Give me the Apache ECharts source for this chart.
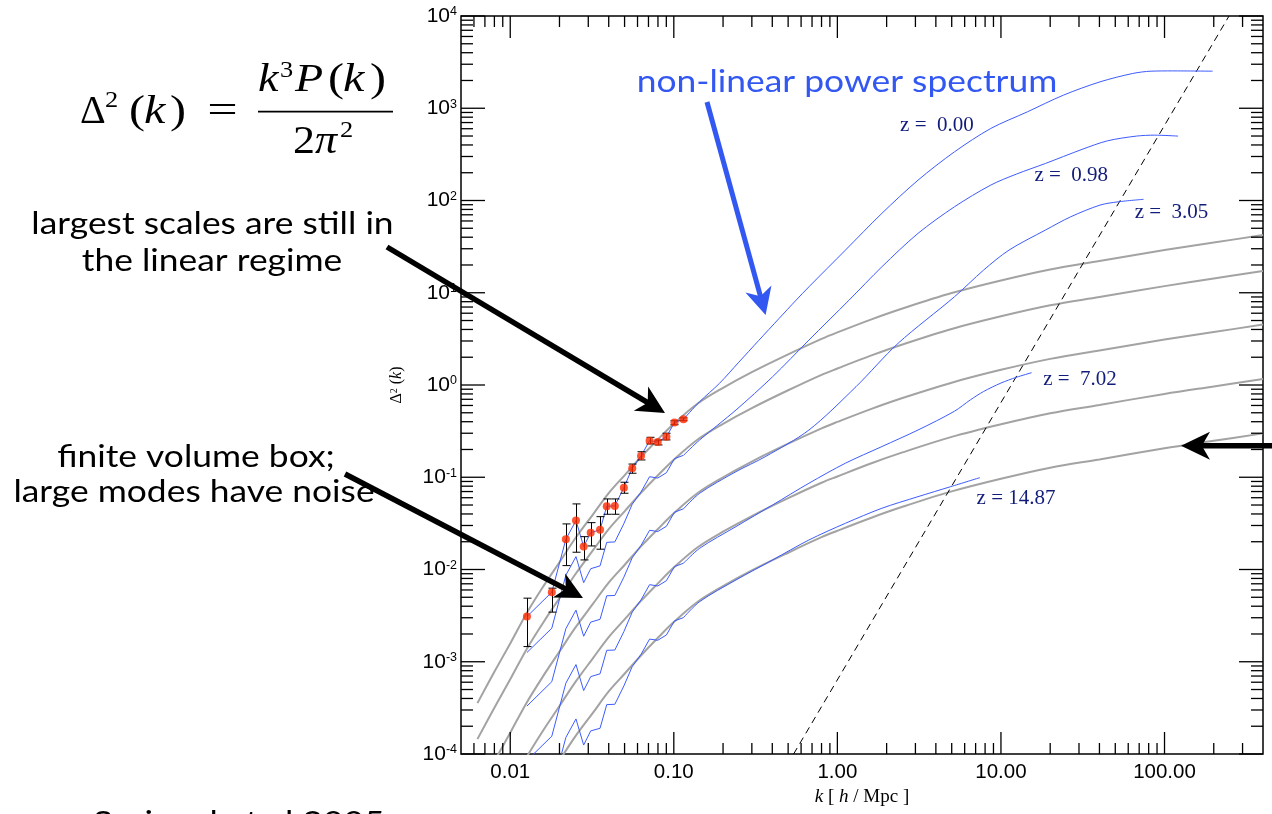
<!DOCTYPE html>
<html>
<head>
<meta charset="utf-8">
<script src="https://cdn.jsdelivr.net/npm/echarts@6/dist/echarts.min.js"></script>
<style>
  html, body { margin: 0; padding: 0; background: #fff; }
  #chart { width: 1272px; height: 814px; }
</style>
</head>
<body>
<div id="chart"></div>
<script>
// ---------- axis ticks ----------
const xMajorTicks = [0.01, 0.1, 1, 10, 100];
const yMajorTicks = [1e-4, 1e-3, 1e-2, 1e-1, 1, 10, 100, 1000, 1e4];
const minorMultipliers = [2, 3, 4, 5, 6, 7, 8, 9];
const xDecades = [0.001, 0.01, 0.1, 1, 10, 100];
const yDecades = [1e-4, 1e-3, 1e-2, 1e-1, 1, 10, 100, 1000];

// ---------- linear theory, k grid shared by all redshifts ----------
const kLin = [0.0063, 0.008, 0.01, 0.0126, 0.016, 0.02, 0.025, 0.032, 0.04, 0.05,
  0.063, 0.08, 0.1, 0.14, 0.2, 0.3, 0.5, 0.8, 1, 1.6, 2.5, 5, 10, 20, 40, 100, 200, 400];
const linZ000 = [3.56e-4, 7.78e-4, 1.58e-3, 3.36e-3, 6.64e-3, 0.0120, 0.0218, 0.0394, 0.0673, 0.105,
  0.166, 0.257, 0.380, 0.631, 0.933, 1.38, 2.15, 3.16, 3.72, 5.12, 6.75, 9.93, 13.6, 17.9, 22.1, 29.0, 35.0, 42.2];
const linZ098 = [1.45e-4, 3.17e-4, 6.46e-4, 1.37e-3, 2.70e-3, 4.90e-3, 8.89e-3, 0.0161, 0.0274, 0.0427,
  0.0676, 0.105, 0.155, 0.257, 0.380, 0.562, 0.877, 1.29, 1.51, 2.08, 2.75, 4.05, 5.55, 7.31, 8.99, 11.8, 14.3, 17.2];
const linZ305 = [3.81e-5, 8.34e-5, 1.70e-4, 3.60e-4, 7.11e-4, 1.29e-3, 2.34e-3, 4.23e-3, 7.21e-3, 0.0112,
  0.0178, 0.0275, 0.0407, 0.0676, 0.100, 0.148, 0.231, 0.339, 0.398, 0.548, 0.723, 1.06, 1.46, 1.92, 2.37, 3.11, 3.75, 4.52];
const linZ702 = [9.8e-6, 2.14e-5, 4.37e-5, 9.25e-5, 1.83e-4, 3.31e-4, 6.01e-4, 1.09e-3, 1.85e-3, 2.88e-3,
  4.57e-3, 7.08e-3, 0.0105, 0.0174, 0.0257, 0.0380, 0.0593, 0.0871, 0.102, 0.141, 0.186, 0.274, 0.375, 0.494, 0.608, 0.800, 0.964, 1.16];
const linZ1487 = [2.52e-6, 5.51e-6, 1.12e-5, 2.38e-5, 4.70e-5, 8.51e-5, 1.55e-4, 2.79e-4, 4.76e-4, 7.41e-4,
  1.17e-3, 1.82e-3, 2.69e-3, 4.47e-3, 6.61e-3, 9.77e-3, 0.0152, 0.0224, 0.0263, 0.0362, 0.0478, 0.0703, 0.0964, 0.127, 0.156, 0.206, 0.248, 0.299];

// ---------- simulation: large-scale bins ----------
const kBins = [0.01265, 0.01795, 0.02188, 0.02523, 0.02811, 0.03104, 0.0354, 0.0389, 0.0436, 0.0495,
  0.0557, 0.0630, 0.0711, 0.0798, 0.0901, 0.1009, 0.1146];
const binsZ000 = [0.00309, 0.00568, 0.0213, 0.0339, 0.0177, 0.0251, 0.0269, 0.0485, 0.0489, 0.0771,
  0.1253, 0.170, 0.249, 0.241, 0.275, 0.391, 0.425];
const errLowZ000 = [0.00146, 0.00345, 0.01102, 0.01539, 0.0127, 0.0180, 0.0166, 0.0397, 0.0397, 0.0671,
  0.1105, 0.154, 0.230, 0.224, 0.254, 0.371, 0.410];
const errHighZ000 = [0.00489, 0.00627, 0.0312, 0.0514, 0.0227, 0.0322, 0.0374, 0.0582, 0.0582, 0.0883,
  0.139, 0.189, 0.271, 0.253, 0.300, 0.410, 0.440];
const binsZ098 = [1.26e-3, 2.31e-3, 8.67e-3, 0.0138, 7.20e-3, 0.0102, 0.01095, 0.0197, 0.0199, 0.0314,
  0.0510, 0.0692, 0.1013, 0.0981, 0.1119, 0.159, 0.173];
const binsZ305 = [3.31e-4, 6.08e-4, 2.28e-3, 3.63e-3, 1.89e-3, 2.69e-3, 2.88e-3, 5.19e-3, 5.23e-3, 8.25e-3,
  0.0134, 0.0182, 0.0266, 0.0258, 0.0294, 0.0418, 0.0455];
const binsZ702 = [8.50e-5, 1.56e-4, 5.86e-4, 9.32e-4, 4.87e-4, 6.90e-4, 7.40e-4, 1.33e-3, 1.34e-3, 2.12e-3,
  3.45e-3, 4.68e-3, 6.85e-3, 6.63e-3, 7.56e-3, 0.01075, 0.01169];
const binsZ1487 = [2.19e-5, 4.02e-5, 1.51e-4, 2.40e-4, 1.25e-4, 1.78e-4, 1.90e-4, 3.43e-4, 3.46e-4, 5.46e-4,
  8.87e-4, 1.20e-3, 1.76e-3, 1.71e-3, 1.95e-3, 2.77e-3, 3.01e-3];

// ---------- simulation: smaller scales (non-linear part) ----------
const tailKZ000 = [0.1146, 0.144, 0.19, 0.25, 0.33, 0.44, 0.56, 0.67, 1.12, 1.87, 3.11, 5.20, 8.67, 14.5, 24.1, 40.3, 63.9, 82.6, 112, 197];
const tailDZ000 = [0.425, 0.66, 1.04, 1.77, 3.03, 5.26, 8.33, 11.6, 29.0, 72.5, 166, 337, 604, 914, 1387, 1932, 2382, 2523, 2540, 2523];
const tailKZ098 = [0.1146, 0.144, 0.24, 0.402, 0.67, 1.18, 1.87, 3.11, 5.20, 8.67, 12.4, 18.7, 31.3, 44.7, 67.3, 86.9, 121];
const tailDZ098 = [0.173, 0.254, 0.536, 1.23, 3.07, 8.33, 19.1, 44.0, 85.5, 147, 193, 252, 358, 443, 499, 511, 499];
const tailKZ305 = [0.1146, 0.144, 0.24, 0.362, 0.67, 1.30, 2.35, 5.20, 7.83, 11.2, 18.7, 26.7, 40.3, 52.1, 74.5];
const tailDZ305 = [0.0455, 0.0671, 0.115, 0.167, 0.325, 0.959, 2.83, 9.05, 17.6, 29.0, 47.8, 66.6, 89.1, 96.8, 103];
const tailKZ702 = [0.1146, 0.144, 0.24, 0.402, 0.67, 1.12, 1.87, 3.11, 5.20, 6.5, 7.83, 10.0, 12.4, 15.4];
const tailDZ702 = [0.01169, 0.0170, 0.0292, 0.0501, 0.0861, 0.142, 0.215, 0.325, 0.52, 0.69, 0.85, 1.05, 1.21, 1.36];
const tailKZ1487 = [0.1146, 0.144, 0.24, 0.402, 0.67, 1.12, 1.87, 3.11, 4.93, 7.43];
const tailDZ1487 = [0.00301, 0.00449, 0.0077, 0.0127, 0.0209, 0.0317, 0.0461, 0.0616, 0.0791, 0.0990];

// ---------- resolution limit (dashed) ----------
const limitK = [0.54, 248];
const limitD = [1e-4, 1e4];

// ---------- redshift labels ----------
const zLabels = ['z =  0.00', 'z =  0.98', 'z =  3.05', 'z =  7.02', 'z = 14.87'];
const zLabelK = [2.40, 15.9, 65.2, 18.0, 7.05];
const zLabelD = [656, 188, 74.9, 1.15, 0.0586];

// ---------- helpers ----------
const zip = (a, b) => a.map((v, i) => [v, b[i]]);
const isPow10 = v => Math.abs(Math.log10(v) - Math.round(Math.log10(v))) < 1e-6;

const BLUE = '#3d5bff';
const GRAY = '#a3a3a3';
const NAVY = '#121c7a';
const Y_MIN = 1e-4, Y_MAX = 1e4, X_MIN = 0.005, X_MAX = 400;

function minorTicks(decades, lo, hi) {
  const out = [];
  decades.forEach(d => minorMultipliers.forEach(m => {
    const v = m * d;
    if (v > lo * 1.0001 && v < hi * 0.9999) out.push(v);
  }));
  return out;
}

const xTickData = xMajorTicks.map(v => [v, 1, 22]).concat(minorTicks(xDecades, X_MIN, X_MAX).map(v => [v, 1, 11]));
const yTickData = yMajorTicks.map(v => [1, v, 24]).concat(minorTicks(yDecades, Y_MIN, Y_MAX).map(v => [1, v, 12]));

const tickStyle = { stroke: '#000', lineWidth: 1.3 };

function lineSeries(data, color, width, smooth, z) {
  return {
    type: 'line', data, showSymbol: false, symbol: 'none', smooth,
    lineStyle: { color, width }, itemStyle: { color }, z, silent: true, clip: true
  };
}

const series = [];
[linZ000, linZ098, linZ305, linZ702, linZ1487].forEach(arr => {
  series.push(lineSeries(zip(kLin, arr), GRAY, 2, 0.35, 2));
});
series.push({
  type: 'line', data: zip(limitK, limitD), showSymbol: false, symbol: 'none',
  lineStyle: { color: '#000', width: 1, type: [7, 5] }, z: 3, silent: true, clip: true
});
[binsZ000, binsZ098, binsZ305, binsZ702, binsZ1487].forEach(arr => {
  series.push(lineSeries(zip(kBins, arr), BLUE, 1, false, 4));
});
[[tailKZ000, tailDZ000], [tailKZ098, tailDZ098], [tailKZ305, tailDZ305], [tailKZ702, tailDZ702], [tailKZ1487, tailDZ1487]]
  .forEach(([k, d]) => series.push(lineSeries(zip(k, d), BLUE, 1, 0.3, 4)));

// error bars on the z = 0 measurements
series.push({
  type: 'custom', coordinateSystem: 'cartesian2d', z: 5, silent: true,
  encode: { x: 0, y: [1, 2] },
  data: kBins.map((k, i) => [k, errLowZ000[i], errHighZ000[i]]),
  renderItem(params, api) {
    const k = api.value(0);
    const pl = api.coord([k, api.value(1)]);
    const ph = api.coord([k, api.value(2)]);
    const w = 4;
    const x = Math.round(pl[0]) + 0.5;
    const st = { stroke: '#000', lineWidth: 1 };
    return {
      type: 'group', children: [
        { type: 'line', shape: { x1: x, y1: pl[1], x2: x, y2: ph[1] }, style: st },
        { type: 'line', shape: { x1: x - w, y1: pl[1], x2: x + w, y2: pl[1] }, style: st },
        { type: 'line', shape: { x1: x - w, y1: ph[1], x2: x + w, y2: ph[1] }, style: st }
      ]
    };
  }
});
series.push({
  type: 'scatter', data: zip(kBins, binsZ000), symbol: 'circle', symbolSize: 8,
  itemStyle: { color: '#ff2a00' }, z: 6, silent: true
});
// redshift labels
series.push({
  type: 'scatter', symbolSize: 1, itemStyle: { color: 'rgba(255,255,255,0)' }, z: 7, silent: true,
  data: zLabels.map((name, i) => ({ name, value: [zLabelK[i], zLabelD[i]] })),
  label: {
    show: true, position: 'right', distance: 0, formatter: p => p.name, opacity: 1,
    fontFamily: 'Liberation Serif', fontSize: 21, color: NAVY
  },
  labelLayout: { hideOverlap: false }
});
// axis ticks on all four sides (pointing inward)
series.push({
  type: 'custom', coordinateSystem: 'cartesian2d', z: 8, silent: true, clip: false,
  encode: { x: 0, y: 1 }, data: xTickData,
  renderItem(params, api) {
    const v = api.value(0), len = api.value(2);
    const b = api.coord([v, Y_MIN]), t = api.coord([v, Y_MAX]);
    return {
      type: 'group', children: [
        { type: 'line', shape: { x1: b[0], y1: b[1], x2: b[0], y2: b[1] - len }, style: tickStyle },
        { type: 'line', shape: { x1: t[0], y1: t[1], x2: t[0], y2: t[1] + len }, style: tickStyle }
      ]
    };
  }
});
series.push({
  type: 'custom', coordinateSystem: 'cartesian2d', z: 8, silent: true, clip: false,
  encode: { x: 0, y: 1 }, data: yTickData,
  renderItem(params, api) {
    const v = api.value(1), len = api.value(2);
    const l = api.coord([X_MIN, v]), r = api.coord([X_MAX, v]);
    return {
      type: 'group', children: [
        { type: 'line', shape: { x1: l[0], y1: l[1], x2: l[0] + len, y2: l[1] }, style: tickStyle },
        { type: 'line', shape: { x1: r[0], y1: r[1], x2: r[0] - len, y2: r[1] }, style: tickStyle }
      ]
    };
  }
});

// ---------- annotations ----------
function arrow(tail, tip, lw, headLen, headHalf, color) {
  const dx = tip[0] - tail[0], dy = tip[1] - tail[1];
  const len = Math.hypot(dx, dy);
  const ux = dx / len, uy = dy / len, nx = -uy, ny = ux;
  const back = [tip[0] - ux * headLen, tip[1] - uy * headLen];
  const notch = [tip[0] - ux * headLen * 0.72, tip[1] - uy * headLen * 0.72];
  return [
    { type: 'line', z: 100, shape: { x1: tail[0], y1: tail[1], x2: notch[0] + ux * 3, y2: notch[1] + uy * 3 },
      style: { stroke: color, lineWidth: lw } },
    { type: 'polygon', z: 100, shape: { points: [tip, [back[0] + nx * headHalf, back[1] + ny * headHalf], notch,
      [back[0] - nx * headHalf, back[1] - ny * headHalf]] }, style: { fill: color } }
  ];
}

const SANS = 'Lato';
const STRETCH = 1.18;
function label(text, x, y, opts = {}) {
  return {
    type: 'text', x, y, z: 100, scaleX: opts.scaleX || STRETCH,
    style: {
      text, fill: opts.color || '#000',
      font: (opts.style || '') + ' ' + (opts.size || 30) + 'px ' + (opts.family || SANS),
      textAlign: opts.align || 'center', align: opts.align || 'center',
      textVerticalAlign: 'middle', verticalAlign: 'middle'
    }
  };
}
const SERIF = '"Liberation Serif"';
const formula = [
  label('Δ', 80, 112, { align: 'left', size: 40, family: SERIF, scaleX: 1 }),
  label('2', 105, 101, { align: 'left', size: 24, family: SERIF, scaleX: 1.1 }),
  label('(', 129, 112, { align: 'left', size: 40, family: SERIF, scaleX: 1.2 }),
  label('k', 144, 112, { align: 'left', size: 40, family: SERIF, style: 'italic', scaleX: 1.2 }),
  label(')', 170, 112, { align: 'left', size: 40, family: SERIF, scaleX: 1.2 }),
  label('=', 222.5, 112, { align: 'center', size: 40, family: SERIF, scaleX: 1.35 }),
  label('k', 258, 80, { align: 'left', size: 40, family: SERIF, style: 'italic', scaleX: 1.15 }),
  label('3', 280, 70.5, { align: 'left', size: 24, family: SERIF, scaleX: 1.1 }),
  label('P', 295, 80, { align: 'left', size: 40, family: SERIF, style: 'italic', scaleX: 1.15 }),
  label('(', 328, 80, { align: 'left', size: 40, family: SERIF, scaleX: 1.2 }),
  label('k', 343, 80, { align: 'left', size: 40, family: SERIF, style: 'italic', scaleX: 1.2 }),
  label(')', 370, 80, { align: 'left', size: 40, family: SERIF, scaleX: 1.2 }),
  { type: 'line', z: 100, shape: { x1: 258, y1: 111.7, x2: 393, y2: 111.7 }, style: { stroke: '#000', lineWidth: 1.8 } },
  label('2', 293, 142, { align: 'left', size: 40, family: SERIF, scaleX: 1.1 }),
  label('π', 315, 142, { align: 'left', size: 40, family: SERIF, style: 'italic', scaleX: 1.1 }),
  label('2', 340, 131, { align: 'left', size: 24, family: SERIF, scaleX: 1.1 })
];

const graphic = formula.concat([
  label('largest scales are still in', 212.5, 224),
  label('the linear regime', 212, 261),
  label('finite volume box;', 196, 457),
  label('large modes have noise', 194, 492),
  label('non-linear power spectrum', 847, 82, { color: '#3358f2' }),
  label('Springel et al 2005', 93, 823, { align: 'left' }),
  ...arrow([387, 247], [665, 413], 5.5, 28, 14, '#000'),
  ...arrow([345, 474], [583, 598], 5.5, 27, 13.5, '#000'),
  ...arrow([707, 102], [765.6, 315], 5, 27, 13.5, '#3358f2'),
  ...arrow([1276, 445.7], [1181, 445.7], 5.5, 29, 14, '#000')
]);

const chart = echarts.init(document.getElementById('chart'), null, { renderer: 'canvas' });
chart.setOption({
  animation: false,
  backgroundColor: '#ffffff',
  grid: { left: 461, top: 16, width: 802, height: 738, show: true, borderColor: '#000', borderWidth: 1.5,
    backgroundColor: 'transparent', containLabel: false },
  xAxis: {
    type: 'log', logBase: 10, min: X_MIN, max: X_MAX,
    axisLine: { show: false }, axisTick: { show: false }, splitLine: { show: false },
    axisLabel: {
      margin: 8, color: '#000', fontFamily: 'Liberation Sans', fontSize: 20.5,
      showMinLabel: false, showMaxLabel: false,
      formatter: v => (isPow10(v) ? v.toFixed(2) : '')
    },
    name: '{i|k} [ {i|h} / Mpc ]', nameLocation: 'middle', nameGap: 30,
    nameTextStyle: {
      fontFamily: 'Liberation Serif', fontSize: 19, color: '#000',
      rich: { i: { fontStyle: 'italic', fontFamily: 'Liberation Serif', fontSize: 19, color: '#000' } }
    }
  },
  yAxis: {
    type: 'log', logBase: 10, min: Y_MIN, max: Y_MAX,
    axisLine: { show: false }, axisTick: { show: false }, splitLine: { show: false },
    axisLabel: {
      margin: 4, color: '#000', fontFamily: 'Liberation Sans', fontSize: 21,
      formatter: v => (isPow10(v) ? '10{s|' + Math.round(Math.log10(v)) + '}' : ''),
      rich: { s: { fontFamily: 'Liberation Sans', fontSize: 12.5, verticalAlign: 'top', color: '#000' } }
    },
    name: '{d|Δ}{s|2}{d| (}{i|k}{d|)}', nameLocation: 'middle', nameGap: 56, nameRotate: 90,
    nameTextStyle: {
      color: '#000',
      rich: {
        d: { fontFamily: 'Liberation Serif', fontSize: 16, color: '#000' },
        s: { fontFamily: 'Liberation Serif', fontSize: 10, verticalAlign: 'top', color: '#000' },
        i: { fontFamily: 'Liberation Serif', fontSize: 16, fontStyle: 'italic', color: '#000' }
      }
    }
  },
  series,
  graphic
});
</script>
</body>
</html>
